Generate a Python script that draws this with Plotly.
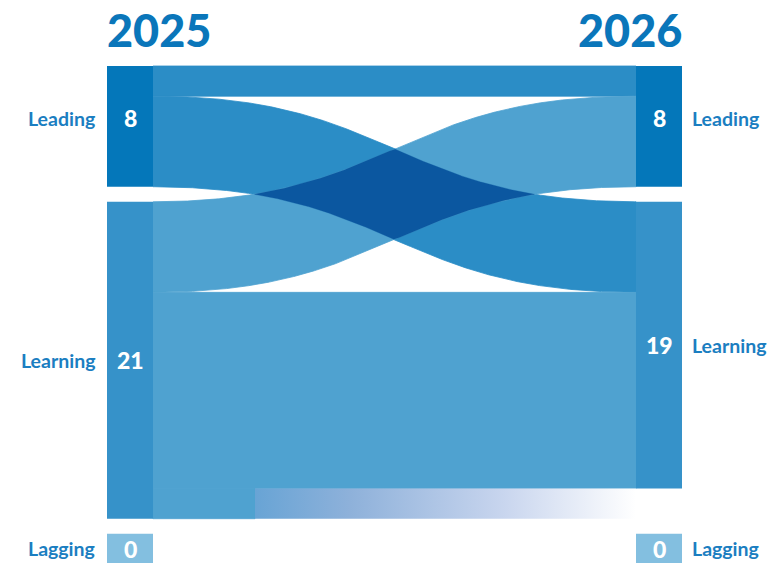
import numpy as np
import plotly.graph_objects as go

# ---------------- data ----------------
categories = ["Leading", "Learning", "Lagging"]
years = ["2025", "2026"]
values_2025 = [8, 21, 0]
values_2026 = [8, 19, 0]
# flows: (source index in 2025, target index in 2026, value); target None = left the cohort
flow_source = [0, 0, 1, 1, 1]
flow_target = [0, 1, 0, 1, None]
flow_value = [2, 6, 6, 13, 2]

# ---------------- style / layout constants ----------------
W, H = 769, 563
PX = 15.09          # pixels per unit
TOP_PX = 66         # pixel row of value 0
GAP = 1             # gap between nodes (units)
ZERO_H = 2          # drawn height for empty nodes (units)
XL0, XL1 = 107, 153
XR0, XR1 = 636, 682
FADE_X = 255

node_colors = ["#0477BA", "#3692C9", "#83BFE0"]
link_colors = ["#2B8DC6", "#4FA2D0"]
overlap_color = "#0B57A0"
label_color = "#1B7EC1"
title_color = "#0A76BA"
FONT = "Lato"

# ---------------- node positions ----------------
def stack(vals):
    tops, y = [], 0.0
    for v in vals:
        tops.append(y)
        y += (v if v > 0 else ZERO_H) + GAP
    return tops

left_top = stack(values_2025)
right_top = stack(values_2026)
last = max(left_top[-1], right_top[-1])
left_top[-1] = last
right_top[-1] = last

def node_h(v):
    return v if v > 0 else ZERO_H

fig = go.Figure()

def poly(xs, ys, color, lw=0.8):
    fig.add_trace(go.Scatter(x=xs, y=ys, fill="toself", mode="lines",
                             line=dict(width=lw, color=color), fillcolor=color,
                             hoverinfo="skip", showlegend=False))

# ---------------- links ----------------
t = np.linspace(0, 1, 1500)
xm = (XL1 + XR0) / 2
bx = (1 - t) ** 3 * XL1 + 3 * (1 - t) ** 2 * t * xm + 3 * (1 - t) * t ** 2 * xm + t ** 3 * XR0
s = 3 * t ** 2 - 2 * t ** 3

src_off = list(left_top)
tgt_off = list(right_top)
bands = {}
for i, (a, b, v) in enumerate(zip(flow_source, flow_target, flow_value)):
    y0 = src_off[a]
    src_off[a] += v
    if b is None:
        ys = [y0, y0, y0 + v, y0 + v, y0]
        poly([XL1, FADE_X, FADE_X, XL1, XL1], ys, link_colors[a])
        fig.add_trace(go.Scatter(
            x=[FADE_X, XR0, XR0, FADE_X, FADE_X], y=ys, fill="toself", mode="lines",
            line=dict(width=0), hoverinfo="skip", showlegend=False,
            fillgradient=dict(type="horizontal", start=FADE_X, stop=XR0,
                              colorscale=[[0, "#68A4D5"], [0.25, "#8EB1DA"],
                                          [0.65, "#C8D5EE"], [1, "#FFFFFF"]])))
        continue
    y1 = tgt_off[b]
    tgt_off[b] += v
    top = y0 + (y1 - y0) * s
    bot = top + v
    bands[(a, b)] = (top, bot)
    poly(np.concatenate([bx, bx[::-1]]), np.concatenate([top, bot[::-1]]), link_colors[a])

# overlap of crossing bands
if (0, 1) in bands and (1, 0) in bands:
    ta, ba = bands[(0, 1)]
    tb, bb = bands[(1, 0)]
    up = np.maximum(ta, tb)
    lo = np.minimum(ba, bb)
    m = up < lo
    poly(np.concatenate([bx[m], bx[m][::-1]]),
         np.concatenate([up[m], lo[m][::-1]]), overlap_color, lw=0.3)

# ---------------- nodes ----------------
annotations = []
for side, vals, tops, (x0, x1) in [(0, values_2025, left_top, (XL0, XL1)),
                                    (1, values_2026, right_top, (XR0, XR1))]:
    for i, (cat, v, y0) in enumerate(zip(categories, vals, tops)):
        h = node_h(v)
        poly([x0, x1, x1, x0, x0], [y0, y0, y0 + h, y0 + h, y0], node_colors[i], lw=0)
        yc = y0 + h / 2
        ysh = 8 if i == 0 else 0
        annotations.append(dict(x=(x0 + x1) / 2, y=yc, text=str(v), showarrow=False,
                                yshift=ysh,
                                font=dict(family=FONT, size=23, color="white", weight=900),
                                xanchor="center", yanchor="middle"))
        lab_font = dict(family=FONT, size=19.5, color=label_color, weight=700)
        if side == 0:
            annotations.append(dict(x=x0 - 10, y=yc, text=cat, showarrow=False, yshift=ysh,
                                    font=lab_font, xanchor="right", yanchor="middle"))
        else:
            annotations.append(dict(x=x1 + 8, y=yc, text=cat, showarrow=False, yshift=ysh,
                                    font=lab_font, xanchor="left", yanchor="middle"))

# titles
title_y = (30 - TOP_PX) / PX
annotations.append(dict(x=XL0 - 2, y=title_y, text=years[0], showarrow=False,
                        xanchor="left", yanchor="middle",
                        font=dict(family=FONT, size=45, color=title_color, weight=900)))
annotations.append(dict(x=XR1 + 2, y=title_y, text=years[1], showarrow=False,
                        xanchor="right", yanchor="middle",
                        font=dict(family=FONT, size=45, color=title_color, weight=900)))

fig.update_layout(
    width=W, height=H, margin=dict(l=0, r=0, t=0, b=0),
    plot_bgcolor="white", paper_bgcolor="white",
    xaxis=dict(range=[0, W], visible=False, fixedrange=True),
    yaxis=dict(range=[(H - TOP_PX) / PX, -TOP_PX / PX], visible=False, fixedrange=True),
    annotations=annotations, showlegend=False,
)

fig.write_html("out.html")
